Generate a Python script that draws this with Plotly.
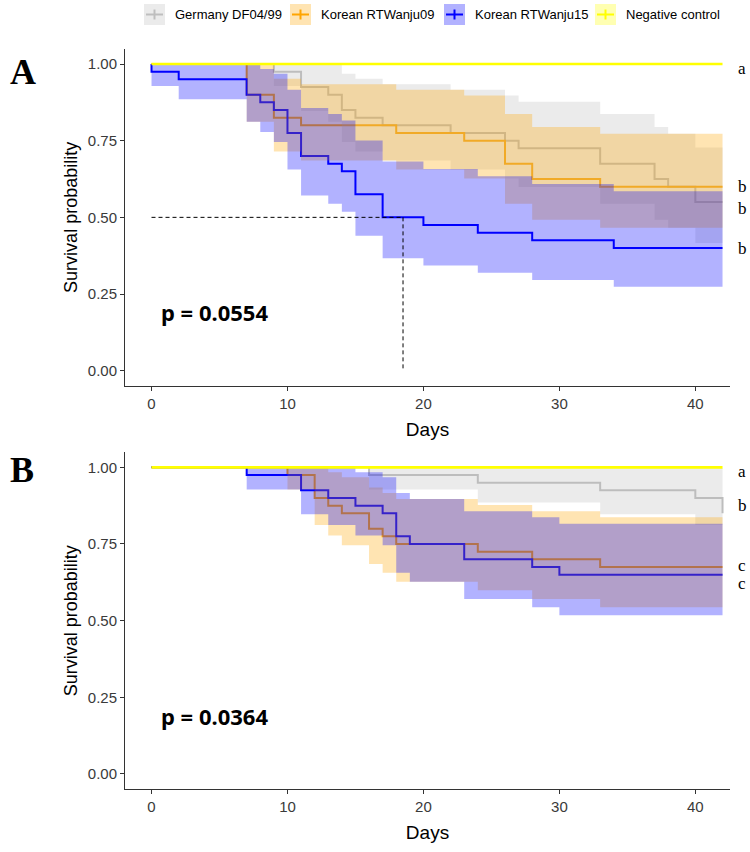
import plotly.graph_objects as go

# ---------------- data ----------------
groups = ["Germany DF04/99", "Korean RTWanju09", "Korean RTWanju15", "Negative control"]
days_end = 42

# Panel A
A_gray_t = [9, 11, 13, 14, 15, 17, 22, 26, 27, 33, 37, 38, 40]
A_gray_s = [0.975, 0.925, 0.9, 0.85, 0.825, 0.8, 0.775, 0.75, 0.725, 0.675, 0.625, 0.6, 0.55]
A_gray_lo = [0.928, 0.847, 0.812, 0.746, 0.715, 0.685, 0.656, 0.627, 0.599, 0.544, 0.492, 0.466, 0.416]
A_gray_hi = [1.0, 1.0, 0.998, 0.968, 0.952, 0.934, 0.916, 0.897, 0.877, 0.837, 0.795, 0.773, 0.728]

A_orange_t = [7, 9, 11, 18, 23, 26, 28, 33]
A_orange_s = [0.9, 0.825, 0.8, 0.775, 0.75, 0.675, 0.625, 0.6]
A_orange_lo = [0.812, 0.715, 0.685, 0.656, 0.627, 0.544, 0.492, 0.466]
A_orange_hi = [0.998, 0.952, 0.934, 0.916, 0.897, 0.837, 0.795, 0.773]

A_blue_t = [0, 2, 7, 8, 9, 10, 11, 13, 14, 15, 17, 20, 24, 28, 34]
A_blue_s = [0.975, 0.95, 0.9, 0.875, 0.85, 0.775, 0.7, 0.675, 0.65, 0.575, 0.5, 0.475, 0.45, 0.425, 0.4]
A_blue_lo = [0.928, 0.885, 0.812, 0.778, 0.746, 0.656, 0.571, 0.544, 0.518, 0.440, 0.367, 0.343, 0.319, 0.296, 0.274]
A_blue_hi = [1.0, 1.0, 0.998, 0.984, 0.968, 0.916, 0.857, 0.837, 0.816, 0.751, 0.682, 0.658, 0.634, 0.609, 0.585]

A_median_day = 18.5
A_median_surv = 0.5
A_pvalue = "p = 0.0554"
A_letters = ["a", "b", "b", "b"]
A_letter_y = [0.985, 0.6, 0.53, 0.4]

# Panel B
B_gray_t = [16, 24, 33, 40, 42]
B_gray_s = [0.975, 0.95, 0.925, 0.9, 0.85]
B_gray_lo = [0.928, 0.885, 0.847, 0.812, 0.746]
B_gray_hi = [1.0, 1.0, 1.0, 0.998, 0.968]

B_orange_t = [10, 12, 13, 14, 16, 17, 18, 24, 28, 33]
B_orange_s = [0.975, 0.9, 0.875, 0.85, 0.8, 0.775, 0.75, 0.725, 0.7, 0.675]
B_orange_lo = [0.928, 0.812, 0.778, 0.746, 0.685, 0.656, 0.627, 0.599, 0.571, 0.544]
B_orange_hi = [1.0, 0.998, 0.984, 0.968, 0.934, 0.916, 0.897, 0.877, 0.857, 0.837]

B_blue_t = [7, 11, 13, 15, 17, 18, 19, 23, 28, 30]
B_blue_s = [0.975, 0.925, 0.9, 0.875, 0.85, 0.775, 0.75, 0.7, 0.675, 0.65]
B_blue_lo = [0.928, 0.847, 0.812, 0.778, 0.746, 0.656, 0.627, 0.571, 0.544, 0.518]
B_blue_hi = [1.0, 1.0, 0.998, 0.984, 0.968, 0.916, 0.897, 0.857, 0.837, 0.816]

B_pvalue = "p = 0.0364"
B_letters = ["a", "b", "c", "c"]
B_letter_y = [0.985, 0.875, 0.68, 0.62]

x_ticks = [0, 10, 20, 30, 40]
y_ticks = [0.0, 0.25, 0.5, 0.75, 1.0]
y_ticktext = ["0.00", "0.25", "0.50", "0.75", "1.00"]

# ---------------- styles ----------------
line_cols = ["#BEBEBE", "#FFA500", "#0000FF", "#FFFF00"]
band_cols = ["rgba(190,190,190,0.3)", "rgba(255,165,0,0.3)", "rgba(0,0,255,0.3)", "rgba(255,255,0,0.3)"]
W, H = 750, 852
SANS = "Liberation Sans, Arial, sans-serif"
SERIF = "Liberation Serif, Times New Roman, serif"


def px(xp):
    return xp / W


def py(yp):
    return 1 - yp / H


fig = go.Figure()


def step(t, v):
    return [0] + list(t) + [days_end], [1.0] + list(v) + [v[-1]]


def add_panel(xa, ya, data):
    for i, (t, s, lo, hi) in enumerate(data):
        x, y = step(t, s)
        fig.add_trace(go.Scatter(x=x, y=y, mode="lines", line=dict(color=line_cols[i], width=2, shape="hv"),
                                 xaxis=xa, yaxis=ya, showlegend=False, hoverinfo="skip"))
    for i, (t, s, lo, hi) in enumerate(data):
        x, ylo = step(t, lo)
        _, yhi = step(t, hi)
        fig.add_trace(go.Scatter(x=x, y=ylo, mode="lines", line=dict(width=0, shape="hv"),
                                 xaxis=xa, yaxis=ya, showlegend=False, hoverinfo="skip"))
        fig.add_trace(go.Scatter(x=x, y=yhi, mode="lines", line=dict(width=0, shape="hv"),
                                 fill="tonexty", fillcolor=band_cols[i],
                                 xaxis=xa, yaxis=ya, showlegend=False, hoverinfo="skip"))
    fig.add_trace(go.Scatter(x=[0, days_end], y=[1.0, 1.0], mode="lines",
                             line=dict(color=line_cols[3], width=2.6),
                             xaxis=xa, yaxis=ya, showlegend=False, hoverinfo="skip"))


add_panel("x", "y", [(A_gray_t, A_gray_s, A_gray_lo, A_gray_hi),
                     (A_orange_t, A_orange_s, A_orange_lo, A_orange_hi),
                     (A_blue_t, A_blue_s, A_blue_lo, A_blue_hi)])
add_panel("x2", "y2", [(B_gray_t, B_gray_s, B_gray_lo, B_gray_hi),
                       (B_orange_t, B_orange_s, B_orange_lo, B_orange_hi),
                       (B_blue_t, B_blue_s, B_blue_lo, B_blue_hi)])

fig.add_trace(go.Scatter(x=[0, A_median_day], y=[A_median_surv, A_median_surv], mode="lines",
                         line=dict(color="black", width=1, dash="4px,3px"), xaxis="x", yaxis="y",
                         showlegend=False, hoverinfo="skip"))
fig.add_trace(go.Scatter(x=[A_median_day, A_median_day], y=[A_median_surv, 0], mode="lines",
                         line=dict(color="black", width=1, dash="4px,3px"), xaxis="x", yaxis="y",
                         showlegend=False, hoverinfo="skip"))

# ---------------- axes ----------------
x_dom = [px(125), px(730)]
yA_dom = [py(386), py(48.7)]
yB_dom = [py(789.3), py(452)]

axis_common = dict(showgrid=False, zeroline=False, showline=True, linecolor="#333333", linewidth=1,
                   ticks="outside", ticklen=4, tickcolor="#333333", tickwidth=1,
                   tickfont=dict(family=SANS, size=15, color="#3a3a3a"))

xt = dict(text="Days", font=dict(family=SANS, size=19, color="black"), standoff=11)
yt = dict(text="Survival probability", font=dict(family=SANS, size=18, color="black"), standoff=5)

fig.update_layout(
    width=W, height=H, autosize=False,
    margin=dict(l=0, r=0, t=0, b=0),
    paper_bgcolor="white", plot_bgcolor="white",
    xaxis=dict(domain=x_dom, range=[-1.95, 42.55], anchor="y", tickvals=x_ticks, title=xt, **axis_common),
    yaxis=dict(domain=yA_dom, range=[-0.05, 1.05], anchor="x", tickvals=y_ticks, ticktext=y_ticktext,
               title=yt, **axis_common),
    xaxis2=dict(domain=x_dom, range=[-1.95, 42.55], anchor="y2", tickvals=x_ticks, title=xt, **axis_common),
    yaxis2=dict(domain=yB_dom, range=[-0.05, 1.05], anchor="x2", tickvals=y_ticks, ticktext=y_ticktext,
                title=yt, **axis_common),
)

# ---------------- annotations ----------------
ann = []
pfont = dict(family="Noto Sans, sans-serif", size=22, color="black")
ann.append(dict(x=0.55, y=0.19, xref="x", yref="y", text="<b>%s</b>" % A_pvalue, showarrow=False,
                xanchor="left", yanchor="middle", font=pfont))
ann.append(dict(x=0.55, y=0.19, xref="x2", yref="y2", text="<b>%s</b>" % B_pvalue, showarrow=False,
                xanchor="left", yanchor="middle", font=pfont))
for lab, yv in zip(A_letters, A_letter_y):
    ann.append(dict(x=px(736), y=yv, xref="paper", yref="y", text=lab, showarrow=False, xanchor="left",
                    yanchor="middle", font=dict(family=SERIF, size=17, color="black")))
for lab, yv in zip(B_letters, B_letter_y):
    ann.append(dict(x=px(736), y=yv, xref="paper", yref="y2", text=lab, showarrow=False, xanchor="left",
                    yanchor="middle", font=dict(family=SERIF, size=17, color="black")))
ann.append(dict(x=px(8), y=py(72), xref="paper", yref="paper", text="<b>A</b>", showarrow=False,
                xanchor="left", yanchor="middle", font=dict(family=SERIF, size=36, color="black")))
ann.append(dict(x=px(8), y=py(470), xref="paper", yref="paper", text="<b>B</b>", showarrow=False,
                xanchor="left", yanchor="middle", font=dict(family=SERIF, size=36, color="black")))

# custom legend
shapes = []
key_left = [144, 290, 444, 595]
key_w, key_top, key_bot = 21, 4, 25
for i, name in enumerate(groups):
    x0 = key_left[i]
    yc = (key_top + key_bot) / 2
    shapes.append(dict(type="rect", xref="paper", yref="paper", x0=px(x0), x1=px(x0 + key_w),
                       y0=py(key_bot), y1=py(key_top), fillcolor=band_cols[i], line=dict(width=0)))
    shapes.append(dict(type="line", xref="paper", yref="paper", x0=px(x0 + 2), x1=px(x0 + key_w - 2),
                       y0=py(yc), y1=py(yc), line=dict(color=line_cols[i], width=2)))
    shapes.append(dict(type="line", xref="paper", yref="paper", x0=px(x0 + key_w / 2), x1=px(x0 + key_w / 2),
                       y0=py(yc - 5), y1=py(yc + 5), line=dict(color=line_cols[i], width=2)))
    ann.append(dict(x=px(x0 + key_w + 8), y=py(yc), xref="paper", yref="paper", text=name, showarrow=False,
                    xanchor="left", yanchor="middle", font=dict(family=SANS, size=13, color="black")))

fig.update_layout(annotations=ann, shapes=shapes)

fig.write_html("out.html", config={"displayModeBar": False},
               post_script="document.body.style.margin='0px';document.body.style.overflow='hidden';")
